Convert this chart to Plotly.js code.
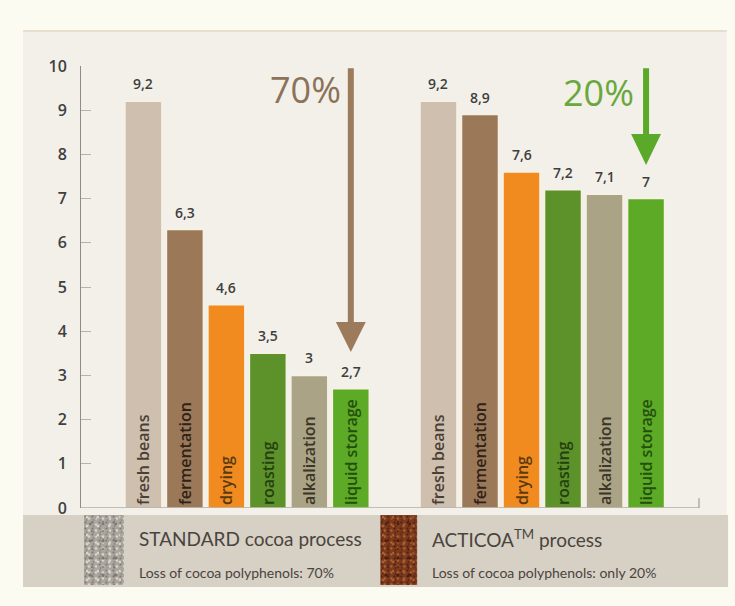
<!DOCTYPE html>
<html>
<head>
<meta charset="utf-8">
<script src="https://cdn.plot.ly/plotly-3.0.1.min.js"></script>
<style>
  html, body { margin:0; padding:0; background:#fcfbf2; }
  #chart { width:735px; height:606px; }
</style>
</head>
<body>
<div id="chart"></div>
<script>
// ---- data ----
const steps = ["fresh beans", "fermentation", "drying", "roasting", "alkalization", "liquid storage"];
const standardValues = [9.2, 6.3, 4.6, 3.5, 3.0, 2.7];
const acticoaValues  = [9.2, 8.9, 7.6, 7.2, 7.1, 7.0];
const yTicks = [0, 1, 2, 3, 4, 5, 6, 7, 8, 9, 10];
const standardLoss = "70%";
const acticoaLoss = "20%";
const legendStandard = "STANDARD cocoa process";
const legendStandardSub = "Loss of cocoa polyphenols: 70%";
const legendActicoa = "ACTICOA<sup>TM</sup> process";
const legendActicoaSub = "Loss of cocoa polyphenols: only 20%";

// ---- styles ----
const barColors = ['#cfbfae', '#9b7858', '#f18b1f', '#5d9129', '#aaa385', '#5caa25'];
const barTextColors = ['#4a3f36', '#2e2219', '#5a3a10', '#23400f', '#3b3628', '#234f0d'];
const FONT = 'Open Sans, Lato, Noto Sans, sans-serif';
const LFONT = 'Lato, Open Sans, sans-serif';
const fmt = v => String(v).replace('.', ',');

function barTrace(vals, xa) {
  return {
    type: 'bar', x: steps, y: vals, xaxis: xa, yaxis: 'y',
    marker: { color: barColors, line: { color: '#f7f1e4', width: 1.5 } },
    text: steps, textposition: 'inside', insidetextanchor: 'start', textangle: -90,
    constraintext: 'none',
    insidetextfont: { family: FONT, size: 16, weight: 600, color: barTextColors },
    hoverinfo: 'x+y', showlegend: false
  };
}

const valFont = { family: FONT, size: 14, weight: 600, color: '#3e3e3e' };
const annotations = [];
standardValues.forEach((v, i) => annotations.push({
  xref: 'x', yref: 'y', x: steps[i], y: v, text: fmt(v), showarrow: false,
  xanchor: 'center', yanchor: 'bottom', yshift: 6, font: valFont
}));
acticoaValues.forEach((v, i) => annotations.push({
  xref: 'x2', yref: 'y', x: steps[i], y: v, text: fmt(v), showarrow: false,
  xanchor: 'center', yanchor: 'bottom', yshift: 6, font: valFont
}));
annotations.push(
  { xref: 'paper', yref: 'paper', x: 0.365, y: 0.946, xanchor: 'center', yanchor: 'middle',
    text: standardLoss, showarrow: false, font: { family: FONT, size: 36, color: '#8b7259' } },
  { xref: 'paper', yref: 'paper', x: 0.837, y: 0.940, xanchor: 'center', yanchor: 'middle',
    text: acticoaLoss, showarrow: false, font: { family: FONT, size: 36, color: '#69a83d' } },
  { xref: 'paper', yref: 'paper', x: 0.092, y: -0.068, xanchor: 'left', yanchor: 'middle',
    text: legendStandard, showarrow: false, font: { family: LFONT, size: 19, color: '#4a4440' } },
  { xref: 'paper', yref: 'paper', x: 0.092, y: -0.147, xanchor: 'left', yanchor: 'middle',
    text: legendStandardSub, showarrow: false, font: { family: LFONT, size: 14, color: '#4a4440' } },
  { xref: 'paper', yref: 'paper', x: 0.565, y: -0.068, xanchor: 'left', yanchor: 'middle',
    text: legendActicoa, showarrow: false, font: { family: LFONT, size: 19, color: '#4a4440' } },
  { xref: 'paper', yref: 'paper', x: 0.565, y: -0.147, xanchor: 'left', yanchor: 'middle',
    text: legendActicoaSub, showarrow: false, font: { family: LFONT, size: 14, color: '#4a4440' } }
);

const last = steps.length - 1;
const shapes = [
  // panel background
  { type: 'rect', xref: 'paper', yref: 'paper', x0: -0.092, x1: 1.045, y0: -0.016, y1: 1.079,
    fillcolor: '#f3f0e9', line: { width: 0 }, layer: 'below' },
  { type: 'line', xref: 'paper', yref: 'paper', x0: -0.092, x1: 1.045, y0: 1.079, y1: 1.079,
    line: { color: '#e8decd', width: 2 }, layer: 'below' },
  // legend band
  { type: 'rect', xref: 'paper', yref: 'paper', x0: -0.092, x1: 1.047, y0: -0.179, y1: -0.016,
    fillcolor: '#d7d0c5', line: { width: 0 }, layer: 'below' },
  // bottom axis line with right end tick
  { type: 'line', xref: 'paper', yref: 'y', x0: 0, x1: 1, y0: 0, y1: 0,
    line: { color: '#8f8b85', width: 1 } },
  { type: 'line', xref: 'paper', yref: 'y', x0: 1, x1: 1, y0: 0, y1: 0.22,
    line: { color: '#8f8b85', width: 1 } },
  // left arrow (standard)
  { type: 'line', xref: 'x', yref: 'y', x0: last, x1: last, y0: 9.95, y1: 4.15,
    line: { color: '#9c7a5c', width: 6 } },
  { type: 'path', xref: 'x', yref: 'y', path: `M ${last-0.36},4.21 L ${last+0.36},4.21 L ${last},3.53 Z`,
    fillcolor: '#9c7a5c', line: { width: 0 } },
  // right arrow (acticoa)
  { type: 'line', xref: 'x2', yref: 'y', x0: last, x1: last, y0: 9.95, y1: 8.4,
    line: { color: '#5aa928', width: 6 } },
  { type: 'path', xref: 'x2', yref: 'y', path: `M ${last-0.36},8.46 L ${last+0.36},8.46 L ${last},7.76 Z`,
    fillcolor: '#5aa928', line: { width: 0 } }
];

function speckle(bg, c1, c2) {
  let s = `<svg xmlns="http://www.w3.org/2000/svg" width="40" height="70" viewBox="0 0 40 70">` +
          `<defs><pattern id="p" width="7" height="6" patternUnits="userSpaceOnUse">` +
          `<rect width="7" height="6" fill="${bg}"/>` +
          `<circle cx="1.5" cy="1.5" r="1.1" fill="${c1}"/>` +
          `<circle cx="5" cy="3.5" r="1.2" fill="${c2}"/>` +
          `<circle cx="2.5" cy="5" r="0.8" fill="${c1}"/>` +
          `</pattern><pattern id="q" width="11" height="9" patternUnits="userSpaceOnUse">` +
          `<circle cx="3" cy="2" r="1.3" fill="${c2}"/><circle cx="8" cy="7" r="1.1" fill="${c1}"/>` +
          `</pattern><pattern id="r" width="13" height="17" patternUnits="userSpaceOnUse">` +
          `<circle cx="6" cy="9" r="1.6" fill="${c1}"/><circle cx="11" cy="3" r="1.4" fill="${bg}"/>` +
          `</pattern></defs>` +
          `<rect width="40" height="70" fill="url(#p)"/><rect width="40" height="70" fill="url(#q)"/>` +
          `<rect width="40" height="70" fill="url(#r)"/></svg>`;
  return 'data:image/svg+xml;charset=utf-8,' + encodeURIComponent(s);
}

const images = [
  { source: speckle('#aaa59d', '#7d7871', '#dad6cf'), xref: 'paper', yref: 'paper',
    x: 0.0065, y: -0.016, sizex: 0.0645, sizey: 0.158, sizing: 'stretch',
    xanchor: 'left', yanchor: 'top', layer: 'above' },
  { source: speckle('#7a3a1e', '#4a1c0c', '#b5622f'), xref: 'paper', yref: 'paper',
    x: 0.485, y: -0.016, sizex: 0.06, sizey: 0.158, sizing: 'stretch',
    xanchor: 'left', yanchor: 'top', layer: 'above' }
];

const layout = {
  width: 735, height: 606,
  margin: { l: 80, r: 36, t: 66, b: 98 },
  paper_bgcolor: '#fcfbf2', plot_bgcolor: 'rgba(0,0,0,0)',
  bargap: 0.11,
  font: { family: FONT },
  showlegend: false,
  xaxis: { domain: [0.069, 0.471], type: 'category', anchor: 'y', showticklabels: false,
           showgrid: false, zeroline: false, showline: false, ticks: '', fixedrange: true },
  xaxis2: { domain: [0.5456, 0.948], type: 'category', anchor: 'y', showticklabels: false,
            showgrid: false, zeroline: false, showline: false, ticks: '', fixedrange: true },
  yaxis: { range: [0, 10], anchor: 'free', position: 0, tickvals: yTicks,
           showline: true, linecolor: '#8f8b85', linewidth: 1,
           ticks: 'inside', ticklen: 10, tickcolor: '#b8b3ab', tickwidth: 1,
           showgrid: false, zeroline: false, ticklabelstandoff: 10,
           tickfont: { family: FONT, size: 16, weight: 600, color: '#3f3f3f' }, fixedrange: true },
  annotations: annotations,
  shapes: shapes,
  images: images
};

Plotly.newPlot('chart', [barTrace(standardValues, 'x'), barTrace(acticoaValues, 'x2')], layout,
  { displayModeBar: false, staticPlot: true });
</script>
</body>
</html>
